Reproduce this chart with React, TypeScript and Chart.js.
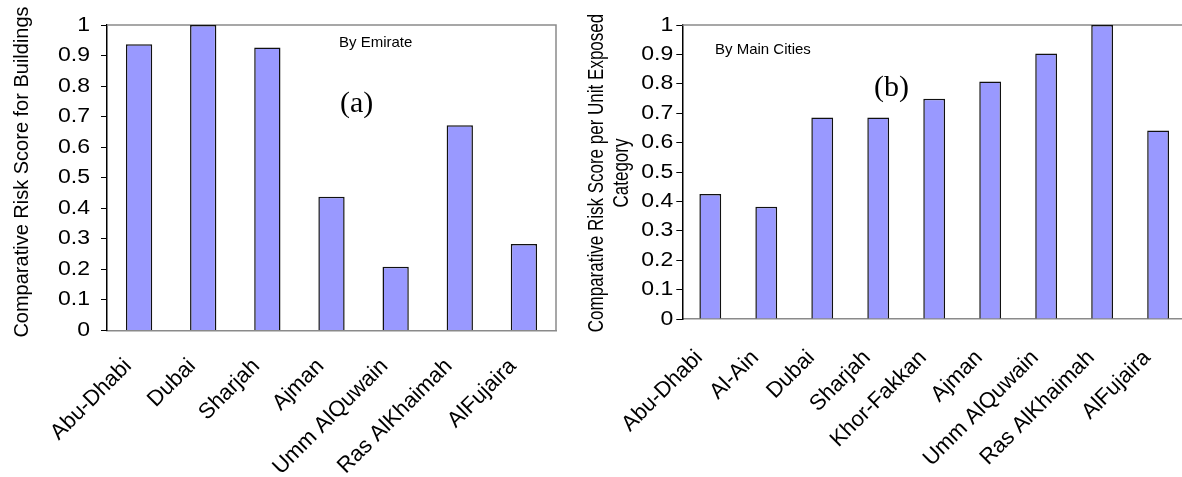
import React, { useEffect, useRef } from 'react';
import { Chart, registerables } from 'chart.js';

Chart.register(...registerables);

// ---- Data ----
const emirates = ['Abu-Dhabi', 'Dubai', 'Sharjah', 'Ajman', 'Umm AlQuwain', 'Ras AlKhaimah', 'AlFujaira'];
const emirateScores = [0.937, 1.0, 0.926, 0.438, 0.209, 0.672, 0.283];

const cities = ['Abu-Dhabi', 'Al-Ain', 'Dubai', 'Sharjah', 'Khor-Fakkan', 'Ajman', 'Umm AlQuwain', 'Ras AlKhaimah', 'AlFujaira'];
const cityScores = [0.425, 0.382, 0.685, 0.685, 0.749, 0.808, 0.903, 1.0, 0.641];

const yTickLabels = ['0', '0.1', '0.2', '0.3', '0.4', '0.5', '0.6', '0.7', '0.8', '0.9', '1'];

const titleA = ['Comparative Risk Score for Buildings'];
const titleB = ['Comparative Risk Score per Unit Exposed', 'Category'];

const SANS = '"Liberation Sans", Arial, sans-serif';
const SERIF = '"Liberation Serif", "Times New Roman", serif';

type Note = { text: string; x: number; y: number; font: string };

type PanelProps = {
  labels: string[];
  values: number[];
  title: string[];
  titleSize: number;
  titleX: number;
  titleLineGap: number;
  titleY: number;
  titleStretch: number;
  yWidth: number;
  xHeight: number;
  padTop: number;
  padRight: number;
  barPct: number;
  yTickPad: number;
  yTickStretch: number;
  xTickPad: number;
  xLabelOffset: number;
  notes: Note[];
  left: number;
  width: number;
};

function Panel(p: PanelProps) {
  const ref = useRef<HTMLCanvasElement | null>(null);

  useEffect(() => {
    if (!ref.current) return;

    const framePlugin = {
      id: 'frame',
      beforeDatasetsDraw(chart: any) {
        const { ctx, chartArea } = chart;
        const { left, right, top, bottom } = chartArea;
        ctx.save();
        ctx.strokeStyle = '#8a8a8a';
        ctx.lineWidth = 1.5;
        ctx.beginPath();
        ctx.moveTo(left, top);
        ctx.lineTo(right, top);
        ctx.lineTo(right, bottom);
        ctx.stroke();
        ctx.restore();
      },
    };

    const textPlugin = {
      id: 'texts',
      afterDraw(chart: any) {
        const { ctx } = chart;
        ctx.save();
        ctx.fillStyle = '#000';
        // annotations
        ctx.textAlign = 'left';
        ctx.textBaseline = 'middle';
        p.notes.forEach((n) => {
          ctx.font = n.font;
          ctx.fillText(n.text, n.x, n.y);
        });
        // y tick labels (slightly wide, as in the original)
        const ys = chart.scales.y;
        ctx.font = `20px ${SANS}`;
        ctx.textAlign = 'right';
        ctx.textBaseline = 'middle';
        ys.ticks.forEach((t: any, i: number) => {
          const y = ys.getPixelForValue(t.value);
          const x = ys.right - 6 - p.yTickPad;
          ctx.save();
          ctx.translate(x, y);
          ctx.scale(p.yTickStretch, 1);
          ctx.fillText(yTickLabels[i], 0, 0);
          ctx.restore();
        });
        // y axis title
        ctx.font = `${p.titleSize}px ${SANS}`;
        ctx.textAlign = 'center';
        ctx.textBaseline = 'middle';
        p.title.forEach((line, i) => {
          ctx.save();
          ctx.translate(p.titleX + i * p.titleLineGap, p.titleY);
          ctx.rotate(-Math.PI / 2);
          ctx.scale(1, p.titleStretch);
          ctx.fillText(line, 0, 0);
          ctx.restore();
        });
        ctx.restore();
      },
    };

    const chart = new Chart(ref.current, {
      type: 'bar',
      data: {
        labels: p.labels,
        datasets: [
          {
            data: p.values,
            backgroundColor: '#9999ff',
            borderColor: '#111',
            borderWidth: 1.5,
            categoryPercentage: 1,
            barPercentage: p.barPct,
          },
        ],
      },
      options: {
        responsive: true,
        maintainAspectRatio: false,
        animation: false,
        layout: { padding: { top: p.padTop, right: p.padRight, left: 0, bottom: 0 } },
        plugins: {
          legend: { display: false },
          tooltip: { enabled: false },
          title: { display: false },
        },
        scales: {
          x: {
            offset: true,
            grid: { display: false },
            border: { display: true, color: '#8a8a8a', width: 1.5 },
            ticks: {
              autoSkip: false,
              minRotation: 45,
              maxRotation: 45,
              padding: p.xTickPad,
              labelOffset: p.xLabelOffset,
              color: '#000',
              font: { family: SANS, size: 22 },
            },
            afterFit: (scale: any) => {
              scale.height = p.xHeight;
            },
          },
          y: {
            min: 0,
            max: 1,
            grid: { drawOnChartArea: false, drawTicks: true, tickLength: 6, color: '#000', lineWidth: 1 },
            border: { display: true, color: '#000', width: 1.5 },
            ticks: {
              stepSize: 0.1,
              display: false,
            },
            title: { display: false },
            afterFit: (scale: any) => {
              scale.width = p.yWidth;
            },
          },
        },
      },
      plugins: [framePlugin, textPlugin],
    } as any);

    return () => chart.destroy();
  }, []);

  return (
    <div style={{ position: 'absolute', left: p.left, top: 0, width: p.width, height: 477 }}>
      <canvas ref={ref} />
    </div>
  );
}

export default function App() {
  return (
    <div
      style={{
        position: 'absolute',
        left: 0,
        top: 0,
        width: 1182,
        height: 477,
        overflow: 'hidden',
        background: '#fff',
      }}
    >
      <Panel
        labels={emirates}
        values={emirateScores}
        title={titleA}
        titleSize={20}
        titleX={22}
        titleLineGap={0}
        titleY={172}
        titleStretch={1}
        yWidth={107}
        xHeight={146.5}
        padTop={25}
        padRight={14}
        barPct={0.41}
        yTickPad={11}
        yTickStretch={1.15}
        xTickPad={15}
        xLabelOffset={-11}
        left={0}
        width={570}
        notes={[
          { text: 'By Emirate', x: 339, y: 43, font: `15px ${SANS}` },
          { text: '(a)', x: 340, y: 104, font: `30px ${SERIF}` },
        ]}
      />
      <Panel
        labels={cities}
        values={cityScores}
        title={titleB}
        titleSize={17}
        titleX={27}
        titleLineGap={25}
        titleY={173}
        titleStretch={1.25}
        yWidth={112.3}
        xHeight={158}
        padTop={25}
        padRight={4}
        barPct={0.39}
        yTickPad={3}
        yTickStretch={1.15}
        xTickPad={18}
        xLabelOffset={-11}
        left={570}
        width={625}
        notes={[
          { text: 'By Main Cities', x: 145, y: 50, font: `15px ${SANS}` },
          { text: '(b)', x: 304, y: 88, font: `30px ${SERIF}` },
        ]}
      />
    </div>
  );
}
